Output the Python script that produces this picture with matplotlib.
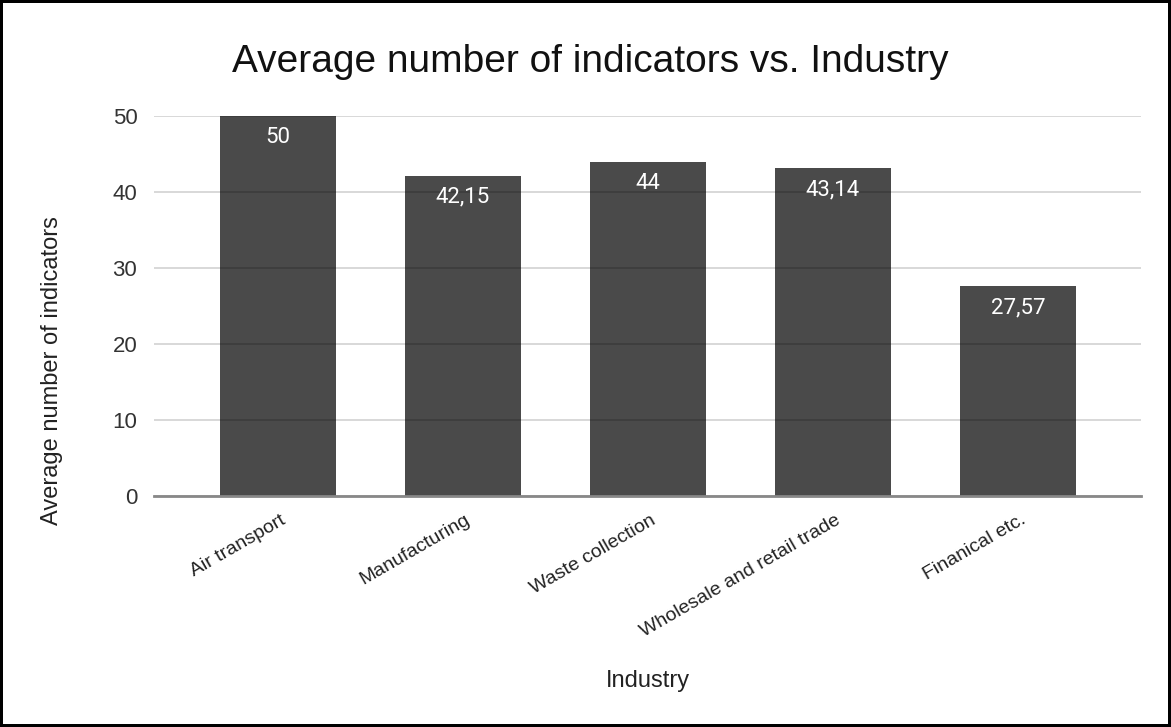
import matplotlib.pyplot as plt
import matplotlib.transforms as mtransforms

industries = ["Air transport", "Manufacturing", "Waste collection",
              "Wholesale and retail trade", "Finanical etc."]
avg_indicators = [50, 42.15, 44, 43.14, 27.57]
value_labels = ["50", "42,15", "44", "43,14", "27,57"]
y_ticks = [0, 10, 20, 30, 40, 50]

fig = plt.figure(figsize=(11.71, 7.27), dpi=100, facecolor="white",
                 edgecolor="black", linewidth=3)
ax = fig.add_axes([0.1315, 0.3177, 0.8429, 0.5227])

x = range(len(industries))
bars = ax.bar(x, avg_indicators, width=0.63, color="#4a4a4a", zorder=1)

# Value labels sit just inside the top of each bar.
for xi, val, lab in zip(x, avg_indicators, value_labels):
    ax.annotate(lab, (xi, val), xytext=(0, -8), textcoords="offset points",
                ha="center", va="top", color="white", fontsize=16,
                family="Roboto", zorder=4)

ax.set_xlim(-0.67, len(industries) - 1 + 0.665)
ax.set_ylim(0, 50)
ax.set_yticks(y_ticks)
ax.tick_params(axis="y", length=0, pad=12, labelsize=16, labelcolor="#333333")
ax.tick_params(axis="x", length=0, pad=4)
ax.set_xticks(list(x))
ax.set_xticklabels(industries, rotation=30, ha="right", va="top",
                   rotation_mode="anchor", fontsize=14, color="#222222",
                   family="Liberation Sans")
shift = mtransforms.ScaledTranslation(2 / 100, -10 / 100, fig.dpi_scale_trans)
for lbl in ax.get_xticklabels():
    lbl.set_transform(lbl.get_transform() + shift)
for lbl in ax.get_yticklabels():
    lbl.set_family("Liberation Sans")

# Gridlines drawn over the bars so they show faintly through them.
ax.yaxis.grid(True, color="black", alpha=0.18, linewidth=1.2, zorder=2)
ax.set_axisbelow(False)
for side in ["top", "right", "left"]:
    ax.spines[side].set_visible(False)
ax.spines["bottom"].set_color("#888888")
ax.spines["bottom"].set_linewidth(2)
ax.spines["bottom"].set_zorder(3)

fig.text(0.504, 0.915, "Average number of indicators vs. Industry",
         ha="center", va="center", fontsize=28, family="Liberation Sans",
         color="#111111")
fig.text(0.044, 0.49, "Average number of indicators", rotation=90,
         ha="center", va="center", fontsize=17, family="Liberation Sans",
         color="#222222")
fig.text(0.553, 0.063, "Industry", ha="center", va="center", fontsize=17,
         family="Liberation Sans", color="#222222")

fig.savefig("out.png", dpi=100, facecolor="white", edgecolor="black")
